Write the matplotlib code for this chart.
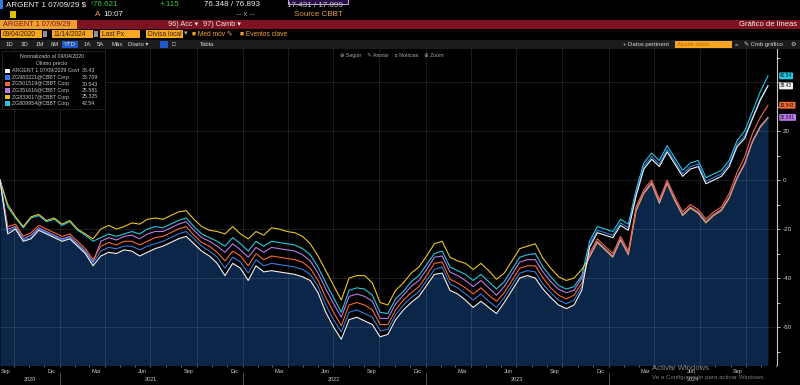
import matplotlib
matplotlib.use('Agg')
import matplotlib.pyplot as plt
import matplotlib.dates as mdates
import matplotlib.transforms as mtransforms
from matplotlib.patches import Rectangle
import numpy as np
import pandas as pd

W, H = 800, 385

# fechas (aprox. cada 15 dias) desde el 09/04/2020 al 11/14/2024
dates = pd.date_range('2020-09-04', '2024-11-14', periods=100)

argent_29 = [
    0, -22, -20, -25, -24, -20.5, -22, -23.5, -25, -24,
    -27, -30, -35, -31, -29.5, -30, -28.5, -29, -31, -29.5,
    -28, -27, -25.5, -24, -23, -26, -29, -31, -34, -39,
    -34, -36, -41, -35, -37.5, -37, -37.5, -38, -38.5, -39.5,
    -41, -46, -54, -60, -65, -57, -56, -57.5, -59, -64,
    -63, -57, -53, -50, -47.5, -43, -38.5, -38, -45, -46.5,
    -49, -52, -49.5, -52, -54.5, -50, -45, -40, -39, -40,
    -44.5, -48, -51, -52.5, -51, -45, -27.5, -21.5, -22.5, -23.5,
    -18.5, -20.5, -6.5, 4.5, 8.5, 5.5, 11.5, 6.5, 1.5, 4.5,
    5.5, -1.5, 0, 1.5, 5.5, 13.5, 17, 25, 32.5, 38.43]

zg_blue = [
    0, -21, -19.5, -24.5, -23.5, -20, -21.5, -23, -24.5, -23.5,
    -26.5, -29.5, -34, -29, -27.5, -28, -27, -27, -28.5, -27,
    -26, -25, -23.5, -22, -21, -24, -27, -29, -31.5, -36,
    -31.5, -33.5, -38, -32.5, -35, -34, -34.5, -35, -35.5, -36.5,
    -38.5, -43.5, -51, -57, -62, -54, -53, -54.5, -56, -61.5,
    -61, -55, -51, -48, -45.5, -41, -36.5, -35.5, -42.5, -44,
    -46.5, -49, -46.5, -49.5, -52, -48, -43, -38, -37, -37.5,
    -42.5, -46, -49, -50.5, -49, -43.5, -26.5, -20.5, -21.5, -22.5,
    -17.5, -19.5, -5.5, 5.5, 9.5, 6.5, 12.5, 7.5, 2.5, 5.5,
    6.5, -0.5, 1, 2.5, 6.5, 14.5, 18, 25.5, 33, 38.709]

zg_orange = [
    0, -19, -18, -23, -21.5, -18.5, -20, -21.5, -23, -22,
    -25, -28, -32.5, -27, -25.5, -26.5, -25, -25, -26.5, -25,
    -23.5, -23, -21.5, -20, -19, -22.5, -25.5, -27, -29.5, -33,
    -29, -31, -35, -30, -32.5, -31, -31.5, -32, -32.5, -33.5,
    -36, -41, -48, -54, -59.5, -51, -50, -51, -53, -59,
    -59, -53, -49, -46, -43.5, -39, -34, -33.5, -40.5, -42,
    -44, -46.5, -44, -47, -49.5, -46, -41, -36, -35, -35,
    -40, -44, -47, -48.5, -47, -42, -30, -24, -27, -30,
    -23, -29, -11, -4, 0, -8, 0, -7, -13, -10,
    -12, -16, -13, -11, -5.5, 3, 9.5, 19, 25.5, 30.543]

zg_purple = [
    0, -20, -19, -24, -22.5, -19.5, -21, -22.5, -24, -23,
    -26, -29, -33.5, -25, -23.5, -24.5, -23, -22.5, -24, -22,
    -21, -21, -19.5, -18, -17, -20.5, -23.5, -25, -27, -29.5,
    -26, -28.5, -31.5, -27.5, -29.5, -27.5, -28, -28.5, -29, -30.5,
    -33, -38, -44.5, -50.5, -56, -47.5, -46.5, -47.5, -49.5, -56.5,
    -56.5, -50.5, -47, -43.5, -41, -36.5, -31.5, -31, -37.5, -39,
    -41, -43.5, -41, -44, -47, -43.5, -38.5, -33.5, -32.5, -32.5,
    -37.5, -41.5, -44.5, -46, -45, -40, -31, -25, -28, -31,
    -24, -30, -12, -5, -1, -9, -1, -8, -14, -11,
    -13, -17, -14, -12, -7, 1, 7, 16, 22, 25.581]

zg_yellow = [
    0, -10, -15, -19, -15, -14, -16.5, -15.5, -18, -16.5,
    -20, -22, -24, -20, -18.5, -20, -19, -17.5, -18, -16,
    -15.5, -16, -14.5, -13, -12.5, -16, -19, -20.5, -21, -22,
    -19, -22, -24, -21, -22.5, -19.5, -20, -21, -21.5, -23,
    -26, -31, -37, -43, -49, -40, -39, -39, -42, -50,
    -51, -45, -42, -38, -35.5, -31, -26, -25, -31.5, -33,
    -34, -36.5, -34, -37, -40.5, -38, -33, -28, -27, -26,
    -32, -36, -39.5, -41, -40, -36.5, -31.5, -25.5, -28.5, -31.5,
    -24.5, -30.5, -12.5, -5.5, -1.5, -9.5, -1.5, -8.5, -14.5, -11.5,
    -13.5, -17.5, -14.5, -12.5, -7.5, 0.5, 6.5, 15.5, 21.5, 25.325]

zg_cyan = [
    0, -11, -15.5, -19.5, -15.5, -14.5, -17, -16, -18.5, -17,
    -20.5, -22.5, -25, -23.5, -22, -23, -22, -21, -22, -20,
    -19, -19.5, -18, -16.5, -15.5, -19, -22, -23.5, -25, -27,
    -23.5, -26, -29, -25, -27, -25, -25.5, -26, -26.5, -28,
    -30.5, -35.5, -42, -48, -54, -45, -44, -44.5, -47, -54,
    -54.5, -48.5, -45.5, -41.5, -39, -34.5, -30, -29, -35.5, -37,
    -38.5, -41, -38.5, -41.5, -44.5, -41.5, -36.5, -31.5, -30.5, -30,
    -35.5, -39.5, -43, -44.5, -43.5, -39, -25, -19, -20, -21,
    -16, -18, -4, 7, 11, 8, 14, 9, 4, 7,
    8, 1, 2.5, 4, 8, 16, 20, 28, 36, 42.54]

series_names = ['ARGENT 1 07/09/2029 Govt', 'ZG983221@CBBT Corp', 'ZG501519@CBBT Corp',
                'ZG351616@CBBT Corp', 'ZG833017@CBBT Corp', 'ZG809954@CBBT Corp']
series_values = [argent_29, zg_blue, zg_orange, zg_purple, zg_yellow, zg_cyan]
last_labels = ['38.43', '38.709', '30.543', '25.581', '25.325', '42.54']
series_colors = ['#f2f2f2', '#2f7de2', '#f26a2e', '#b97ae8', '#e8c422', '#22c8e2']

month_names = {9: 'Sep', 12: 'Dic', 3: 'Mar', 6: 'Jun'}
years = ['2020', '2021', '2022', '2023', '2024']

plt.rcParams['font.family'] = ['Liberation Sans', 'DejaVu Sans']

fig = plt.figure(figsize=(W / 100, H / 100), dpi=100, facecolor='black')


def px_text(x, y, s, size=5.5, color='#e0e0e0', **kw):
    fig.text(x / W, 1 - y / H, s, fontsize=size, color=color, va='center', **kw)


def px_rect(x, y, w, h, **kw):
    fig.add_artist(Rectangle((x / W, 1 - (y + h) / H), w / W, h / H,
                             transform=fig.transFigure, **kw))


# ---- grafico ----
ax = fig.add_axes([0, 20 / H, 777 / W, 316 / H])
ax.set_facecolor('black')
x0, x1 = pd.Timestamp('2020-09-04'), pd.Timestamp('2024-12-02')
ax.set_xlim(x0, x1)
ax.set_ylim(-75.5, 53.5)

vals = np.array(series_values, dtype=float)
lower = vals.min(axis=0)
ax.fill_between(dates, lower, -80, color='#0b2648', lw=0, zorder=1)

for yv in range(-60, 41, 20):
    ax.axhline(yv, color='white', alpha=0.13, lw=0.6, zorder=1.5)
for q in pd.date_range('2020-10-01', '2024-10-01', freq='QS'):
    ax.axvline(q, color='white', alpha=0.13, lw=0.6, zorder=1.5)

for vals_i, col in reversed(list(zip(series_values, series_colors))):
    ax.plot(dates, vals_i, color=col, lw=0.8, zorder=3)

for sp in ['top', 'left', 'bottom']:
    ax.spines[sp].set_visible(False)
ax.spines['right'].set_color('#c8c8c8')
ax.spines['right'].set_linewidth(0.8)

ax.yaxis.tick_right()
ax.set_yticks([-60, -40, -20, 0, 20, 40])
ax.set_yticklabels(['-60', '-40', '-20', '0', '20', ''])
ax.set_yticks(range(-70, 51, 10), minor=True)
ax.tick_params(axis='y', which='both', colors='#d0d0d0', labelsize=4.5, length=2, width=0.6, pad=2)

# eje X: nombre del mes en el centro del mes
label_dates = []
label_text = []
for d in pd.date_range('2020-09-01', '2024-09-01', freq='3MS'):
    label_dates.append(d + pd.Timedelta(days=14))
    label_text.append(month_names[d.month])
ax.set_xticks(label_dates)
ax.set_xticklabels(label_text)
ax.xaxis.set_minor_locator(mdates.MonthLocator())
ax.tick_params(axis='x', which='major', length=0, labelsize=4, colors='#c8c8c8', pad=3)
ax.tick_params(axis='x', which='minor', length=1.5, width=0.5, color='#8a8a8a')

trans = mtransforms.blended_transform_factory(ax.transData, ax.transAxes)
year_centers = [pd.Timestamp('2020-11-03'), pd.Timestamp('2021-07-02'), pd.Timestamp('2022-07-02'),
                pd.Timestamp('2023-07-02'), pd.Timestamp('2024-06-17')]
for yc, yl in zip(year_centers, years):
    ax.text(yc, -0.047, yl, transform=trans, fontsize=4, color='#c8c8c8', ha='center', va='center')
for yb in ['2021-01-01', '2022-01-01', '2023-01-01', '2024-01-01']:
    ax.axvline(pd.Timestamp(yb), ymin=-0.063, ymax=-0.025, color='#707070', lw=0.5, clip_on=False)

# valores finales a la derecha (azul y amarillo quedan tapados en la captura)
trans_r = mtransforms.blended_transform_factory(ax.transAxes, ax.transData)
for k in [3, 0, 2, 5]:
    ax.text(1.004, series_values[k][-1], last_labels[k], transform=trans_r, fontsize=3.4,
            color='#101010', va='center', ha='left', zorder=5, clip_on=False,
            bbox=dict(boxstyle='round,pad=0.2', fc=series_colors[k], ec='none'))

# ---- cabecera ----
px_rect(0, 0, 3, 9, fc='#3a7ad8', ec='none')
px_text(6, 5, 'ARGENT 1 07/09/29 $', size=5.8, color='#f0f0f0')
px_text(90, 5, '\u219176.621', size=5.8, color='#3ccc3c')
px_text(160, 5, '+.115', size=5.8, color='#3ccc3c')
px_text(204, 5, '76.348 / 76.893', size=5.8, color='#f0f0f0')
px_text(287, 5.5, '17.431 / 17.099', size=5.8, color='#c8c8c8')
px_rect(288, -3, 60, 7, fc='#2a0e4a', ec='#d8c8f0', lw=0.6)

px_rect(10, 11, 6, 7, fc='#e0c000', ec='none')
px_text(95, 15, 'A', size=5.8, color='#f0a030')
px_text(103, 15, '10:07', size=5.8, color='#f0f0f0')
px_text(236, 15, '-- x --', size=5.8, color='#a0a0a0')
px_text(294, 15, 'Source CBBT', size=5.8, color='#e0a040')

px_rect(0, 20, W, 9, fc='#7e1220', ec='none')
px_rect(0, 20, 77, 9, fc='#f0a030', ec='none')
px_text(3, 24.5, 'ARGENT 1 07/09/29', size=5.3, color='#7e1220')
px_text(168, 24.5, '96) Acc \u25be', size=5.3, color='#f0e0e0')
px_text(203, 24.5, '97) Camb \u25be', size=5.3, color='#f0e0e0')
px_text(797, 24.5, 'Gr\u00e1fico de l\u00edneas', size=5.5, color='#f0f0f0', ha='right')

for bx, bw, txt in [(1, 41, '09/04/2020'), (52, 41, '11/14/2024'), (100, 40, 'Last Px'),
                    (146, 37, 'Divisa local')]:
    px_rect(bx, 30, bw, 8, fc='#f5a623', ec='none')
    px_text(bx + 2, 34, txt, size=4.8, color='#3a2000')
px_rect(43, 31, 4, 6, fc='#909090', ec='none')
px_rect(94, 31, 4, 6, fc='#909090', ec='none')
px_text(184, 34, '\u25be', size=5, color='#b0b0b0')
px_text(192, 34, '\u25a0 Med m\u00f3v \u270e', size=4.8, color='#f0a030')
px_text(240, 34, '\u25a0 Eventos clave', size=4.8, color='#f0a030')

px_rect(0, 40, W, 9, fc='#1c1c1c', ec='none')
px_rect(62, 41, 16, 7, fc='#2058c8', ec='none')
for tx, tt in [(6, '1D'), (21, '3D'), (36, '1M'), (51, '6M'), (64, 'YTD'), (84, '1A'), (97, '5A'),
               (111, 'M\u00e1x'), (128, 'Diario \u25be')]:
    px_text(tx, 44.5, tt, size=4.3, color='#d8d8d8')
px_rect(160, 41, 8, 7, fc='#2058c8', ec='none')
px_text(172, 44.5, '\u25a1', size=4.3, color='#d8d8d8')
px_text(200, 44.5, 'Tabla', size=4.3, color='#d8d8d8')
px_text(623, 44.5, '+ Datos pertinent', size=4.3, color='#d8d8d8')
px_rect(675, 41, 57, 7, fc='#f5a623', ec='none')
px_text(677, 44.5, 'Ajustar datos', size=4, color='#c07010')
px_text(735, 44.5, '\u00ab', size=4.3, color='#d8d8d8')
px_text(744, 44.5, '\u270e Cmb gr\u00e1fico', size=4.3, color='#d8d8d8')
px_text(790, 44.5, '\u2699', size=4.5, color='#d8d8d8')

px_text(340, 55, '\u2295 Seguir    \u270e Anotar    \u2261 Noticias    \u2295 Zoom', size=3.8, color='#a8a8a8')

# ---- leyenda ----
px_rect(2, 51, 103, 58, fc='black', ec='#2a2a2a', lw=0.5)
px_text(52, 57, 'Normalizado al 09/04/2020', size=3.8, color='#c8c8c8', ha='center')
px_text(52, 63.5, '\u00daltimo precio', size=3.8, color='#c8c8c8', ha='center')
for k, (nm, lab, col) in enumerate(zip(series_names, last_labels, series_colors)):
    yy = 71 + k * 6.5
    px_rect(5, yy - 2.3, 4.5, 4.5, fc=col, ec='none')
    px_text(12, yy, nm, size=3.8, color='#c8c8c8')
    px_text(82, yy, lab, size=3.8, color='#c8c8c8')

# marca de agua de Windows
px_text(652, 369, 'Activar Windows', size=5.5, color='#8a8a8a')
px_text(652, 378, 'Ve a Configuraci\u00f3n para activar Windows.', size=4.4, color='#7a7a7a')

plt.savefig('out.png', dpi=100, facecolor='black')
